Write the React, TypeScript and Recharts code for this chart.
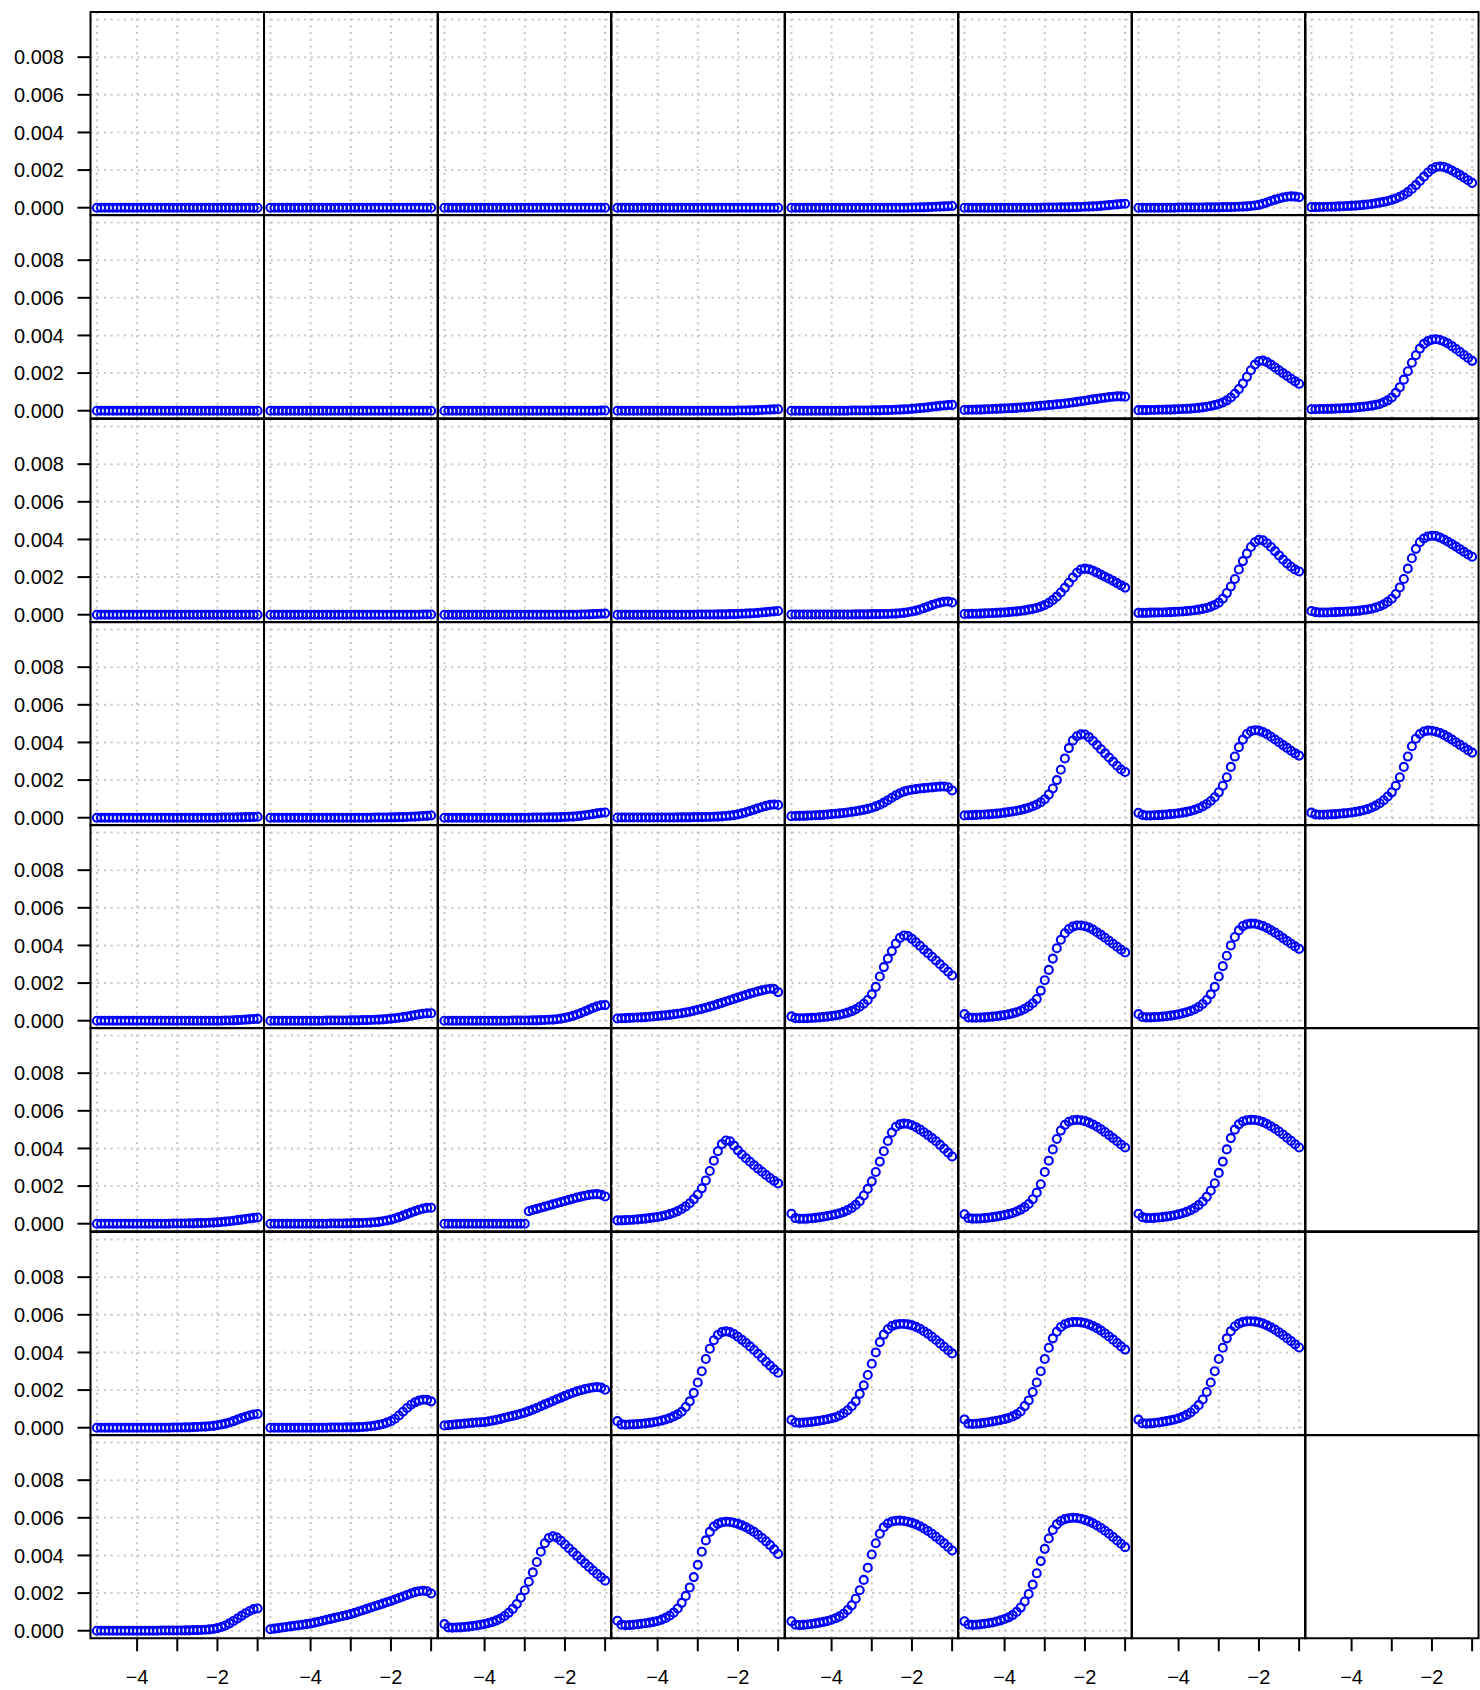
import { CartesianGrid, ReferenceArea, Scatter, ScatterChart, XAxis, YAxis } from 'recharts'

// x positions shared by every panel
const xValues = [
  -5, -4.9, -4.8, -4.7, -4.6, -4.5, -4.4, -4.3, -4.2, -4.1,
  -4, -3.9, -3.8, -3.7, -3.6, -3.5, -3.4, -3.3, -3.2, -3.1,
  -3, -2.9, -2.8, -2.7, -2.6, -2.5, -2.4, -2.3, -2.2, -2.1,
  -2, -1.9, -1.8, -1.7, -1.6, -1.5, -1.4, -1.3, -1.2, -1.1,
  -1,
]

// panel values in units of 1e-4, named r<row>c<col> (top-left is r1c1)
const r1c1 = [
  0, 0, 0, 0, 0, 0, 0, 0, 0, 0,
  0, 0, 0, 0, 0, 0, 0, 0, 0, 0,
  0, 0, 0, 0, 0, 0, 0, 0, 0, 0,
  0, 0, 0, 0, 0, 0, 0, 0, 0, 0,
  0,
]
const r1c2 = [
  0, 0, 0, 0, 0, 0, 0, 0, 0, 0,
  0, 0, 0, 0, 0, 0, 0, 0, 0, 0,
  0, 0, 0, 0, 0, 0, 0, 0, 0, 0,
  0, 0, 0, 0, 0, 0, 0, 0, 0, 0,
  0,
]
const r1c3 = [
  0, 0, 0, 0, 0, 0, 0, 0, 0, 0,
  0, 0, 0, 0, 0, 0, 0, 0, 0, 0,
  0, 0, 0, 0, 0, 0, 0, 0, 0, 0,
  0, 0, 0, 0, 0, 0, 0, 0, 0, 0,
  0,
]
const r1c4 = [
  0, 0, 0, 0, 0, 0, 0, 0, 0, 0,
  0, 0, 0, 0, 0, 0, 0, 0, 0, 0,
  0, 0, 0, 0, 0, 0, 0, 0, 0, 0,
  0, 0, 0, 0, 0, 0, 0, 0, 0, 0,
  0,
]
const r1c5 = [
  0, 0, 0, 0, 0, 0, 0, 0, 0, 0,
  0, 0, 0, 0, 0, 0, 0, 0, 0, 0,
  0, 0, 0, 0, 0, 0, 0, 0, 0, 0,
  0.1, 0.1, 0.2, 0.2, 0.3, 0.4, 0.5, 0.6, 0.7, 0.8,
  0.9,
]
const r1c6 = [
  0, 0, 0, 0, 0, 0, 0, 0, 0, 0,
  0, 0, 0, 0, 0, 0, 0, 0, 0, 0,
  0.1, 0.1, 0.1, 0.1, 0.2, 0.2, 0.2, 0.3, 0.3, 0.4,
  0.5, 0.6, 0.7, 0.8, 1.0, 1.2, 1.4, 1.6, 1.8, 2.0,
  2.1,
]
const r1c7 = [
  0, 0, 0, 0, 0, 0, 0, 0, 0, 0,
  0.1, 0.1, 0.1, 0.1, 0.1, 0.1, 0.1, 0.2, 0.2, 0.2,
  0.2, 0.3, 0.3, 0.3, 0.4, 0.5, 0.6, 0.7, 0.9, 1.2,
  1.5, 2.1, 2.8, 3.6, 4.3, 4.9, 5.4, 5.8, 6.0, 5.9,
  5.6,
]
const r1c8 = [
  0.3, 0.3, 0.4, 0.4, 0.5, 0.5, 0.6, 0.7, 0.8, 0.9,
  1.0, 1.1, 1.3, 1.5, 1.7, 2.0, 2.3, 2.7, 3.1, 3.6,
  4.2, 4.9, 5.8, 6.9, 8.3, 10.0, 12.0, 14.2, 16.5, 18.7,
  20.5, 21.6, 21.9, 21.6, 20.8, 19.8, 18.6, 17.3, 16.0, 14.6,
  13.2,
]

const r2c1 = [
  0, 0, 0, 0, 0, 0, 0, 0, 0, 0,
  0, 0, 0, 0, 0, 0, 0, 0, 0, 0,
  0, 0, 0, 0, 0, 0, 0, 0, 0, 0,
  0, 0, 0, 0, 0, 0, 0, 0, 0, 0,
  0,
]
const r2c2 = [
  0, 0, 0, 0, 0, 0, 0, 0, 0, 0,
  0, 0, 0, 0, 0, 0, 0, 0, 0, 0,
  0, 0, 0, 0, 0, 0, 0, 0, 0, 0,
  0, 0, 0, 0, 0, 0, 0, 0, 0, 0,
  0,
]
const r2c3 = [
  0, 0, 0, 0, 0, 0, 0, 0, 0, 0,
  0, 0, 0, 0, 0, 0, 0, 0, 0, 0,
  0, 0, 0, 0, 0, 0, 0, 0, 0, 0,
  0, 0, 0, 0, 0, 0, 0, 0, 0, 0.1,
  0.1,
]
const r2c4 = [
  0, 0, 0, 0, 0, 0, 0, 0, 0, 0,
  0, 0, 0, 0, 0, 0, 0, 0, 0, 0,
  0, 0, 0, 0, 0, 0, 0, 0, 0, 0,
  0.1, 0.1, 0.1, 0.2, 0.2, 0.3, 0.4, 0.5, 0.6, 0.7,
  0.8,
]
const r2c5 = [
  0, 0, 0, 0, 0, 0, 0, 0, 0, 0,
  0, 0, 0, 0, 0, 0.1, 0.1, 0.1, 0.1, 0.1,
  0.2, 0.2, 0.2, 0.3, 0.3, 0.4, 0.5, 0.6, 0.7, 0.8,
  1.0, 1.2, 1.4, 1.6, 1.8, 2.1, 2.3, 2.6, 2.8, 3.0,
  3.1,
]
const r2c6 = [
  0.4, 0.5, 0.5, 0.6, 0.6, 0.7, 0.8, 0.9, 1.0, 1.1,
  1.2, 1.3, 1.4, 1.5, 1.7, 1.8, 2.0, 2.2, 2.4, 2.6,
  2.8, 3.0, 3.2, 3.4, 3.6, 3.8, 4.1, 4.4, 4.7, 5.0,
  5.3, 5.7, 6.0, 6.3, 6.6, 6.9, 7.2, 7.4, 7.6, 7.6,
  7.4,
]
const r2c7 = [
  0.3, 0.3, 0.3, 0.4, 0.4, 0.5, 0.5, 0.6, 0.6, 0.7,
  0.8, 0.9, 1.0, 1.1, 1.3, 1.5, 1.8, 2.1, 2.5, 3.0,
  3.6, 4.4, 5.5, 7.0, 9.0, 11.5, 14.5, 18.0, 21.5, 24.5,
  26.3, 26.6, 25.8, 24.5, 23.0, 21.5, 20.0, 18.5, 17.0, 15.6,
  14.3,
]
const r2c8 = [
  0.8, 0.8, 0.9, 0.9, 1.0, 1.0, 1.1, 1.2, 1.3, 1.4,
  1.5, 1.7, 1.9, 2.1, 2.4, 2.7, 3.1, 3.6, 4.5, 5.5,
  7.0, 9.5, 12.5, 16.5, 21.0, 25.5, 29.5, 33.0, 35.5, 37.0,
  37.8, 38.0, 37.6, 36.8, 35.7, 34.3, 32.8, 31.2, 29.6, 28.0,
  26.5,
]

const r3c1 = [
  0, 0, 0, 0, 0, 0, 0, 0, 0, 0,
  0, 0, 0, 0, 0, 0, 0, 0, 0, 0,
  0, 0, 0, 0, 0, 0, 0, 0, 0, 0,
  0, 0, 0, 0, 0, 0, 0, 0, 0, 0,
  0,
]
const r3c2 = [
  0, 0, 0, 0, 0, 0, 0, 0, 0, 0,
  0, 0, 0, 0, 0, 0, 0, 0, 0, 0,
  0, 0, 0, 0, 0, 0, 0, 0, 0, 0,
  0, 0, 0, 0, 0, 0, 0, 0, 0.1, 0.1,
  0.1,
]
const r3c3 = [
  0, 0, 0, 0, 0, 0, 0, 0, 0, 0,
  0, 0, 0, 0, 0, 0, 0, 0, 0, 0,
  0, 0, 0, 0, 0, 0, 0, 0, 0, 0,
  0, 0, 0, 0, 0.1, 0.1, 0.2, 0.3, 0.4, 0.5,
  0.6,
]
const r3c4 = [
  0, 0, 0, 0, 0, 0, 0, 0, 0, 0,
  0, 0, 0, 0, 0, 0, 0, 0, 0, 0,
  0.1, 0.1, 0.1, 0.1, 0.1, 0.2, 0.2, 0.2, 0.3, 0.3,
  0.4, 0.5, 0.6, 0.7, 0.8, 1.0, 1.2, 1.4, 1.6, 1.8,
  2.0,
]
const r3c5 = [
  0.1, 0.1, 0.1, 0.1, 0.1, 0.1, 0.1, 0.1, 0.1, 0.1,
  0.1, 0.1, 0.1, 0.1, 0.1, 0.1, 0.2, 0.2, 0.2, 0.2,
  0.3, 0.3, 0.3, 0.4, 0.4, 0.5, 0.6, 0.8, 1.0, 1.3,
  1.7, 2.2, 2.8, 3.5, 4.3, 5.1, 5.8, 6.4, 6.9, 7.0,
  6.5,
]
const r3c6 = [
  0.4, 0.4, 0.5, 0.5, 0.6, 0.7, 0.8, 0.9, 1.0, 1.1,
  1.2, 1.4, 1.6, 1.8, 2.0, 2.3, 2.7, 3.1, 3.6, 4.3,
  5.2, 6.3, 7.8, 9.6, 11.8, 14.3, 17.0, 19.8, 22.3, 24.0,
  24.5, 24.2, 23.4, 22.4, 21.3, 20.2, 19.1, 18.0, 16.8, 15.6,
  14.4,
]
const r3c7 = [
  1.0, 1.0, 1.0, 1.1, 1.1, 1.2, 1.2, 1.3, 1.4, 1.5,
  1.6, 1.7, 1.9, 2.1, 2.4, 2.7, 3.1, 3.6, 4.3, 5.2,
  6.4, 8.5, 11.5, 15.0, 19.0, 24.0, 28.5, 32.5, 36.0, 38.5,
  39.8, 39.5, 38.0, 36.0, 33.8, 31.5, 29.3, 27.3, 25.5, 24.0,
  23.0,
]
const r3c8 = [
  2.0, 1.4, 1.2, 1.2, 1.2, 1.3, 1.4, 1.5, 1.6, 1.7,
  1.8, 2.0, 2.2, 2.5, 2.8, 3.2, 3.8, 4.5, 5.5, 6.8,
  8.5, 11.0, 14.5, 19.0, 24.5, 30.0, 35.0, 38.5, 40.5, 41.6,
  42.0, 41.8, 41.0, 40.0, 38.8, 37.5, 36.2, 34.8, 33.4, 32.0,
  30.8,
]

const r4c1 = [
  0, 0, 0, 0, 0, 0, 0, 0, 0, 0,
  0, 0, 0, 0, 0, 0, 0, 0, 0, 0,
  0, 0, 0, 0, 0, 0, 0, 0, 0, 0,
  0, 0.1, 0.1, 0.1, 0.1, 0.2, 0.2, 0.3, 0.3, 0.4,
  0.5,
]
const r4c2 = [
  0, 0, 0, 0, 0, 0, 0, 0, 0, 0,
  0, 0, 0, 0, 0, 0, 0, 0, 0, 0,
  0, 0, 0, 0, 0, 0, 0.1, 0.1, 0.1, 0.1,
  0.2, 0.2, 0.3, 0.3, 0.4, 0.5, 0.6, 0.7, 0.9, 1.0,
  1.2,
]
const r4c3 = [
  0, 0, 0, 0, 0, 0, 0, 0, 0, 0,
  0, 0, 0, 0, 0, 0, 0, 0, 0, 0,
  0, 0, 0.1, 0.1, 0.1, 0.1, 0.2, 0.2, 0.2, 0.3,
  0.4, 0.5, 0.6, 0.8, 1.0, 1.3, 1.6, 1.9, 2.3, 2.6,
  2.8,
]
const r4c4 = [
  0.1, 0.1, 0.1, 0.1, 0.1, 0.1, 0.1, 0.1, 0.1, 0.1,
  0.1, 0.1, 0.1, 0.1, 0.1, 0.2, 0.2, 0.2, 0.2, 0.3,
  0.3, 0.3, 0.4, 0.4, 0.5, 0.6, 0.7, 0.9, 1.1, 1.4,
  1.8, 2.3, 2.9, 3.6, 4.3, 5.0, 5.7, 6.3, 6.8, 7.0,
  6.8,
]
const r4c5 = [
  0.8, 0.9, 1.0, 1.0, 1.1, 1.2, 1.3, 1.4, 1.5, 1.7,
  1.9, 2.1, 2.3, 2.5, 2.8, 3.1, 3.4, 3.8, 4.2, 4.7,
  5.3, 6.0, 6.9, 8.0, 9.3, 10.6, 11.9, 13.0, 13.9, 14.5,
  14.9, 15.2, 15.5, 15.7, 15.9, 16.1, 16.3, 16.5, 16.6, 16.2,
  14.5,
]
const r4c6 = [
  1.2, 1.3, 1.4, 1.5, 1.6, 1.7, 1.8, 2.0, 2.2, 2.4,
  2.7, 3.0, 3.3, 3.7, 4.1, 4.7, 5.3, 6.1, 7.0, 8.2,
  9.8, 12.3, 15.5, 20.0, 25.5, 31.5, 37.0, 41.0, 43.3, 44.3,
  44.2, 42.8, 40.8, 38.6, 36.4, 34.2, 32.0, 29.8, 27.6, 25.6,
  24.3,
]
const r4c7 = [
  2.6, 1.5, 1.2, 1.2, 1.3, 1.4, 1.5, 1.7, 1.9, 2.1,
  2.4, 2.7, 3.1, 3.6, 4.2, 5.0, 6.0, 7.3, 8.9, 10.9,
  13.5, 17.0, 21.5, 27.0, 32.5, 37.5, 41.5, 44.5, 46.0, 46.5,
  46.3, 45.5, 44.4, 43.0, 41.6, 40.1, 38.6, 37.1, 35.6, 34.2,
  33.0,
]
const r4c8 = [
  2.7, 1.8, 1.6, 1.6, 1.7, 1.8, 1.9, 2.1, 2.3, 2.5,
  2.8, 3.1, 3.5, 4.0, 4.6, 5.4, 6.4, 7.7, 9.3, 11.3,
  13.5, 17.0, 21.5, 27.0, 32.5, 38.0, 42.0, 44.5, 45.8, 46.3,
  46.2, 45.7, 45.0, 44.0, 42.8, 41.5, 40.1, 38.7, 37.3, 35.9,
  34.6,
]

const r5c1 = [
  0, 0, 0, 0, 0, 0, 0, 0, 0, 0,
  0, 0, 0, 0, 0, 0, 0, 0, 0, 0,
  0, 0, 0, 0, 0, 0, 0, 0, 0, 0,
  0, 0, 0.1, 0.1, 0.2, 0.3, 0.4, 0.6, 0.7, 0.9,
  1.0,
]
const r5c2 = [
  0, 0, 0, 0, 0, 0, 0, 0, 0, 0,
  0, 0, 0, 0, 0.1, 0.1, 0.1, 0.1, 0.1, 0.1,
  0.2, 0.2, 0.2, 0.3, 0.3, 0.4, 0.5, 0.6, 0.7, 0.9,
  1.1, 1.3, 1.6, 1.9, 2.2, 2.6, 3.0, 3.4, 3.7, 3.9,
  4.0,
]
const r5c3 = [
  0, 0, 0, 0, 0, 0, 0, 0, 0, 0,
  0, 0, 0, 0, 0, 0, 0, 0.1, 0.1, 0.1,
  0.1, 0.1, 0.2, 0.2, 0.3, 0.4, 0.5, 0.6, 0.8, 1.1,
  1.5, 2.0, 2.6, 3.3, 4.1, 5.0, 5.9, 6.8, 7.6, 8.2,
  8.3,
]
const r5c4 = [
  1.2, 1.3, 1.4, 1.5, 1.6, 1.7, 1.8, 1.9, 2.1, 2.3,
  2.5, 2.7, 2.9, 3.1, 3.4, 3.7, 4.0, 4.4, 4.8, 5.3,
  5.8, 6.3, 6.9, 7.5, 8.1, 8.8, 9.5, 10.2, 10.9, 11.6,
  12.3, 13.0, 13.7, 14.4, 15.0, 15.6, 16.1, 16.6, 17.0, 16.8,
  15.2,
]
const r5c5 = [
  2.3, 1.4, 1.3, 1.3, 1.4, 1.5, 1.6, 1.8, 2.0, 2.2,
  2.5, 2.8, 3.2, 3.7, 4.3, 5.1, 6.1, 7.4, 9.0, 11.0,
  14.0, 18.0, 23.5, 28.5, 33.0, 37.0, 41.0, 44.0, 45.3, 45.0,
  43.5, 41.7, 39.8, 37.8, 35.9, 34.0, 32.0, 30.0, 28.0, 26.0,
  24.0,
]
const r5c6 = [
  3.5, 1.8, 1.6, 1.6, 1.7, 1.8, 2.0, 2.2, 2.4, 2.7,
  3.0, 3.4, 3.9, 4.5, 5.3, 6.3, 7.6, 9.3, 11.5, 16.0,
  21.5, 27.0, 33.0, 38.5, 43.0, 46.5, 48.7, 50.0, 50.6, 50.6,
  50.2, 49.5, 48.4, 47.0, 45.6, 44.1, 42.5, 40.9, 39.3, 37.7,
  36.3,
]
const r5c7 = [
  3.5, 2.0, 1.8, 1.8, 1.9, 2.0, 2.2, 2.4, 2.7, 3.0,
  3.4, 3.9, 4.5, 5.2, 6.1, 7.3, 8.9, 11.0, 14.0, 18.0,
  23.5, 29.0, 34.5, 40.0, 44.5, 48.0, 50.3, 51.3, 51.6, 51.5,
  51.0, 50.3, 49.3, 48.1, 46.8, 45.4, 43.9, 42.4, 40.9, 39.5,
  38.2,
]

const r6c1 = [
  0, 0, 0, 0, 0, 0, 0, 0, 0, 0,
  0, 0, 0, 0, 0, 0, 0, 0, 0, 0.1,
  0.1, 0.1, 0.1, 0.2, 0.2, 0.3, 0.3, 0.4, 0.5, 0.6,
  0.7, 0.9, 1.1, 1.3, 1.6, 1.9, 2.2, 2.5, 2.8, 3.1,
  3.3,
]
const r6c2 = [
  0, 0, 0, 0, 0, 0, 0, 0, 0, 0,
  0, 0, 0, 0, 0, 0.1, 0.1, 0.1, 0.1, 0.2,
  0.2, 0.3, 0.3, 0.4, 0.5, 0.6, 0.8, 1.0, 1.3, 1.7,
  2.2, 2.8, 3.5, 4.3, 5.1, 5.9, 6.7, 7.4, 8.0, 8.4,
  8.5,
]
const r6c3 = [
  0, 0, 0, 0, 0, 0, 0, 0, 0, 0,
  0, 0, 0, 0, 0, 0, 0, 0, 0, 0,
  0, 6.6, 7.3, 7.9, 8.5, 9.1, 9.7, 10.3, 10.9, 11.5,
  12.1, 12.7, 13.3, 13.9, 14.4, 14.9, 15.3, 15.6, 15.7, 15.4,
  14.5,
]
const r6c4 = [
  1.8, 1.8, 1.9, 2.0, 2.1, 2.3, 2.5, 2.7, 3.0, 3.3,
  3.6, 4.0, 4.5, 5.1, 5.8, 6.7, 7.8, 9.2, 10.9, 13.0,
  15.5, 18.8, 23.0, 28.0, 33.5, 38.5, 42.3, 44.2, 43.8, 41.5,
  39.0, 36.8, 34.8, 32.9, 31.1, 29.3, 27.6, 25.9, 24.3, 22.8,
  21.4,
]
const r6c5 = [
  5.3, 3.0, 2.6, 2.6, 2.7, 2.9, 3.1, 3.4, 3.7, 4.1,
  4.5, 5.0, 5.6, 6.3, 7.2, 8.4, 10.0, 12.0, 15.0, 18.5,
  22.5, 27.5, 33.0, 38.5, 44.0, 48.5, 51.5, 52.8, 53.2, 53.0,
  52.3, 51.3, 50.0, 48.6, 47.1, 45.5, 43.8, 41.9, 39.9, 37.8,
  35.7,
]
const r6c6 = [
  5.0, 3.0, 2.7, 2.7, 2.8, 3.0, 3.2, 3.5, 3.8, 4.2,
  4.6, 5.1, 5.7, 6.5, 7.5, 8.8, 10.5, 13.0, 16.5, 21.0,
  27.5, 33.5, 39.5, 45.0, 49.5, 52.5, 54.2, 55.0, 55.2, 55.0,
  54.5, 53.7, 52.7, 51.5, 50.2, 48.7, 47.1, 45.5, 43.8, 42.1,
  40.5,
]
const r6c7 = [
  5.3, 3.5, 3.0, 3.0, 3.1, 3.3, 3.5, 3.8, 4.1, 4.5,
  5.0, 5.6, 6.3, 7.2, 8.4, 9.9, 11.8, 14.3, 17.5, 21.5,
  27.0, 33.0, 39.5, 45.5, 50.0, 52.8, 54.3, 55.0, 55.2, 55.1,
  54.7, 54.0, 53.0, 51.8, 50.5, 49.0, 47.4, 45.7, 44.0, 42.2,
  40.5,
]

const r7c1 = [
  0, 0, 0, 0, 0, 0, 0, 0, 0, 0,
  0, 0, 0, 0, 0, 0, 0, 0, 0, 0.1,
  0.1, 0.1, 0.2, 0.2, 0.3, 0.4, 0.5, 0.6, 0.8, 1.0,
  1.3, 1.7, 2.2, 2.8, 3.5, 4.3, 5.1, 5.8, 6.5, 7.0,
  7.3,
]
const r7c2 = [
  0, 0, 0, 0, 0, 0, 0, 0, 0, 0,
  0, 0, 0, 0, 0, 0.1, 0.1, 0.1, 0.1, 0.2,
  0.2, 0.2, 0.3, 0.4, 0.6, 0.8, 1.1, 1.5, 2.0, 2.7,
  3.5, 4.8, 6.5, 8.5, 10.5, 12.2, 13.5, 14.4, 14.9, 14.8,
  14.0,
]
const r7c3 = [
  1.2, 1.4, 1.6, 1.8, 2.0, 2.2, 2.4, 2.6, 2.8, 2.9,
  3.0, 3.4, 3.8, 4.2, 4.7, 5.3, 5.8, 6.3, 6.8, 7.4,
  8.0, 8.8, 9.6, 10.5, 11.4, 12.4, 13.3, 14.2, 15.1, 16.0,
  16.9, 17.8, 18.6, 19.3, 19.9, 20.5, 21.0, 21.4, 21.6, 21.3,
  20.2,
]
const r7c4 = [
  3.5, 1.8, 1.6, 1.7, 1.8, 1.9, 2.1, 2.3, 2.6, 2.9,
  3.3, 3.8, 4.4, 5.1, 6.0, 7.1, 8.5, 11.0, 14.0, 18.5,
  24.0, 30.0, 36.5, 42.0, 46.5, 49.3, 50.8, 51.2, 50.8, 49.8,
  48.3, 46.7, 45.0, 43.2, 41.3, 39.3, 37.2, 35.0, 33.0, 31.0,
  29.2,
]
const r7c5 = [
  4.1, 2.8, 2.6, 2.7, 2.9, 3.1, 3.4, 3.7, 4.1, 4.5,
  5.0, 5.6, 6.5, 7.7, 9.3, 11.4, 14.0, 18.0, 22.5, 28.0,
  34.0, 40.0, 45.5, 49.5, 52.3, 54.0, 54.8, 55.1, 55.1, 54.9,
  54.4, 53.6, 52.6, 51.3, 49.9, 48.3, 46.6, 44.8, 43.0, 41.2,
  39.5,
]
const r7c6 = [
  4.4, 2.2, 2.0, 2.1, 2.3, 2.6, 2.9, 3.3, 3.7, 4.1,
  4.6, 5.2, 6.0, 7.1, 8.6, 11.5, 14.5, 19.0, 24.0, 30.0,
  36.5, 42.5, 47.5, 51.0, 53.5, 55.0, 55.8, 56.1, 56.2, 56.0,
  55.6, 54.9, 54.0, 52.9, 51.6, 50.1, 48.5, 46.8, 45.0, 43.2,
  41.5,
]
const r7c7 = [
  4.3, 2.4, 2.2, 2.3, 2.5, 2.8, 3.1, 3.5, 3.9, 4.4,
  5.0, 5.8, 6.8, 8.1, 9.8, 12.0, 15.0, 19.0, 24.0, 30.0,
  36.5, 42.5, 47.5, 51.3, 53.8, 55.3, 56.1, 56.5, 56.6, 56.4,
  56.0, 55.3, 54.4, 53.3, 52.1, 50.7, 49.2, 47.6, 46.0, 44.3,
  42.6,
]

const r8c1 = [
  0, 0, 0, 0, 0, 0, 0, 0, 0, 0,
  0, 0, 0, 0, 0, 0, 0.1, 0.1, 0.1, 0.1,
  0.1, 0.1, 0.2, 0.2, 0.3, 0.3, 0.4, 0.5, 0.7, 0.9,
  1.4, 2.0, 2.8, 3.9, 5.2, 6.5, 7.9, 9.3, 10.5, 11.5,
  11.8,
]
const r8c2 = [
  0.8, 1.1, 1.4, 1.7, 2.0, 2.3, 2.6, 2.9, 3.2, 3.5,
  3.8, 4.3, 4.8, 5.3, 5.8, 6.3, 6.8, 7.3, 7.8, 8.3,
  8.8, 9.5, 10.2, 10.9, 11.6, 12.3, 13.0, 13.7, 14.4, 15.1,
  15.8, 16.6, 17.4, 18.2, 19.0, 19.8, 20.5, 21.0, 21.2, 21.0,
  19.8,
]
const r8c3 = [
  3.5, 1.8, 1.6, 1.7, 1.8, 2.0, 2.2, 2.5, 2.8, 3.2,
  3.6, 4.1, 4.7, 5.5, 6.5, 7.8, 9.5, 11.6, 14.2, 17.5,
  21.5, 26.0, 31.0, 36.5, 42.0, 46.5, 49.3, 50.2, 49.5, 47.8,
  45.8, 43.8, 41.8, 39.8, 37.8, 35.8, 33.9, 32.0, 30.2, 28.4,
  26.6,
]
const r8c4 = [
  5.3, 3.2, 2.9, 3.0, 3.2, 3.4, 3.7, 4.0, 4.3, 4.7,
  5.2, 5.9, 6.8, 8.0, 9.6, 11.8, 14.8, 18.5, 23.0, 28.5,
  35.0, 42.0, 48.0, 52.5, 55.3, 56.8, 57.6, 57.9, 57.8, 57.4,
  56.8, 56.0, 55.0, 53.8, 52.5, 51.0, 49.3, 47.5, 45.5, 43.2,
  40.8,
]
const r8c5 = [
  5.0, 3.2, 3.0, 3.1, 3.3, 3.6, 3.9, 4.3, 4.7, 5.2,
  5.8, 6.6, 7.6, 9.0, 11.0, 13.5, 17.0, 21.5, 27.0, 33.5,
  40.5, 46.5, 51.5, 55.0, 57.0, 58.0, 58.4, 58.5, 58.3, 57.9,
  57.3, 56.5, 55.5, 54.3, 53.0, 51.5, 49.9, 48.2, 46.4, 44.5,
  42.6,
]
const r8c6 = [
  5.0, 3.3, 3.1, 3.2, 3.4, 3.7, 4.0, 4.4, 4.9, 5.5,
  6.2, 7.1, 8.3, 10.0, 12.3, 15.5, 19.5, 24.5, 30.5, 37.0,
  43.5, 49.0, 53.5, 56.5, 58.3, 59.3, 59.8, 60.0, 59.9, 59.5,
  58.9, 58.1, 57.1, 55.9, 54.6, 53.1, 51.5, 49.8, 48.0, 46.2,
  44.4,
]

// ticks, grid and labels
const yTicks = [0, 0.002, 0.004, 0.006, 0.008]
const yTickLabels = ['0.000', '0.002', '0.004', '0.006', '0.008']
const yGrid = [0, 0.002, 0.004, 0.006, 0.008, 0.01]
const xTicks = [-4, -3, -2, -1]
const xTickLabels = ['\u22124', '', '\u22122', '']
const xGrid = [-5, -4, -3, -2, -1]

// null = empty panel
const panels: (number[] | null)[][] = [
  [r1c1, r1c2, r1c3, r1c4, r1c5, r1c6, r1c7, r1c8],
  [r2c1, r2c2, r2c3, r2c4, r2c5, r2c6, r2c7, r2c8],
  [r3c1, r3c2, r3c3, r3c4, r3c5, r3c6, r3c7, r3c8],
  [r4c1, r4c2, r4c3, r4c4, r4c5, r4c6, r4c7, r4c8],
  [r5c1, r5c2, r5c3, r5c4, r5c5, r5c6, r5c7, null],
  [r6c1, r6c2, r6c3, r6c4, r6c5, r6c6, r6c7, null],
  [r7c1, r7c2, r7c3, r7c4, r7c5, r7c6, r7c7, null],
  [r8c1, r8c2, r8c3, r8c4, r8c5, r8c6, null, null],
]

const X_DOMAIN: [number, number] = [-5.16, -0.84]
const Y_DOMAIN: [number, number] = [-0.0004, 0.0104]

const LEFT = 90.5
const TOP = 12
const PW = 173.56
const PH = 203.25
const PAD = 3
const BOTTOM = 52
const EDGE = 8
const FONT = { fontSize: 20, fill: '#000', fontFamily: '"Liberation Sans", Arial, sans-serif' }

function Ring(props: any) {
  const { cx, cy } = props
  if (cx == null || cy == null) return null
  return <circle cx={cx} cy={cy} r={4} fill="none" stroke="#0000ff" strokeWidth={2.1} />
}

// keeps the axis ticks alive (the grid is built from them) without drawing labels
function NoTick() {
  return <g />
}

function Panel({ values, row, col }: { values: number[] | null; row: number; col: number }) {
  const first = col === 0
  const last = row === panels.length - 1
  const data = values ? xValues.map((x, i) => ({ x, y: values[i] * 1e-4 })) : []

  const left = first ? EDGE : LEFT + col * PW - PAD
  const top = TOP + row * PH - PAD
  const width = first ? LEFT - EDGE + PW + PAD : PW + 2 * PAD
  const height = last ? PAD + PH + BOTTOM : PH + 2 * PAD

  return (
    <div style={{ position: 'absolute', left, top }}>
      <ScatterChart
        width={width}
        height={height}
        margin={{ top: PAD, right: PAD, bottom: last ? 0 : PAD, left: first ? 0 : PAD }}
      >
        {values ? (
          <CartesianGrid
            stroke="#c6c6c6"
            strokeWidth={2}
            strokeDasharray="2 4.7"
            horizontalValues={yGrid}
            verticalValues={xGrid}
          />
        ) : null}
        <XAxis
          type="number"
          dataKey="x"
          domain={X_DOMAIN}
          allowDataOverflow
          ticks={xTicks}
          interval={0}
          height={last ? BOTTOM : 0}
          axisLine={false}
          tick={last ? FONT : NoTick}
          tickLine={last ? { stroke: '#000', strokeWidth: 2 } : false}
          tickSize={13}
          tickMargin={19}
          tickFormatter={(v: number) => xTickLabels[xTicks.indexOf(v)] ?? ''}
        />
        <YAxis
          type="number"
          dataKey="y"
          domain={Y_DOMAIN}
          allowDataOverflow
          ticks={yTicks}
          interval={0}
          width={first ? LEFT - EDGE : 0}
          axisLine={false}
          tick={first ? FONT : NoTick}
          tickLine={first ? { stroke: '#000', strokeWidth: 2 } : false}
          tickSize={13}
          tickMargin={13.5}
          tickFormatter={(v: number) => yTickLabels[yTicks.indexOf(v)] ?? ''}
        />
        {values ? <Scatter data={data} shape={Ring} isAnimationActive={false} /> : null}
        <ReferenceArea
          x1={X_DOMAIN[0]}
          x2={X_DOMAIN[1]}
          y1={Y_DOMAIN[0]}
          y2={Y_DOMAIN[1]}
          fill="none"
          stroke="#000"
          strokeWidth={2}
          ifOverflow="visible"
        />
      </ScatterChart>
    </div>
  )
}

export default function App() {
  return (
    <div
      style={{
        position: 'absolute',
        left: 0,
        top: 0,
        width: 1480,
        height: 1690,
        background: '#fff',
        overflow: 'hidden',
      }}
    >
      {panels.map((row, r) =>
        row.map((values, c) => <Panel key={`${r}-${c}`} values={values} row={r} col={c} />),
      )}
    </div>
  )
}
